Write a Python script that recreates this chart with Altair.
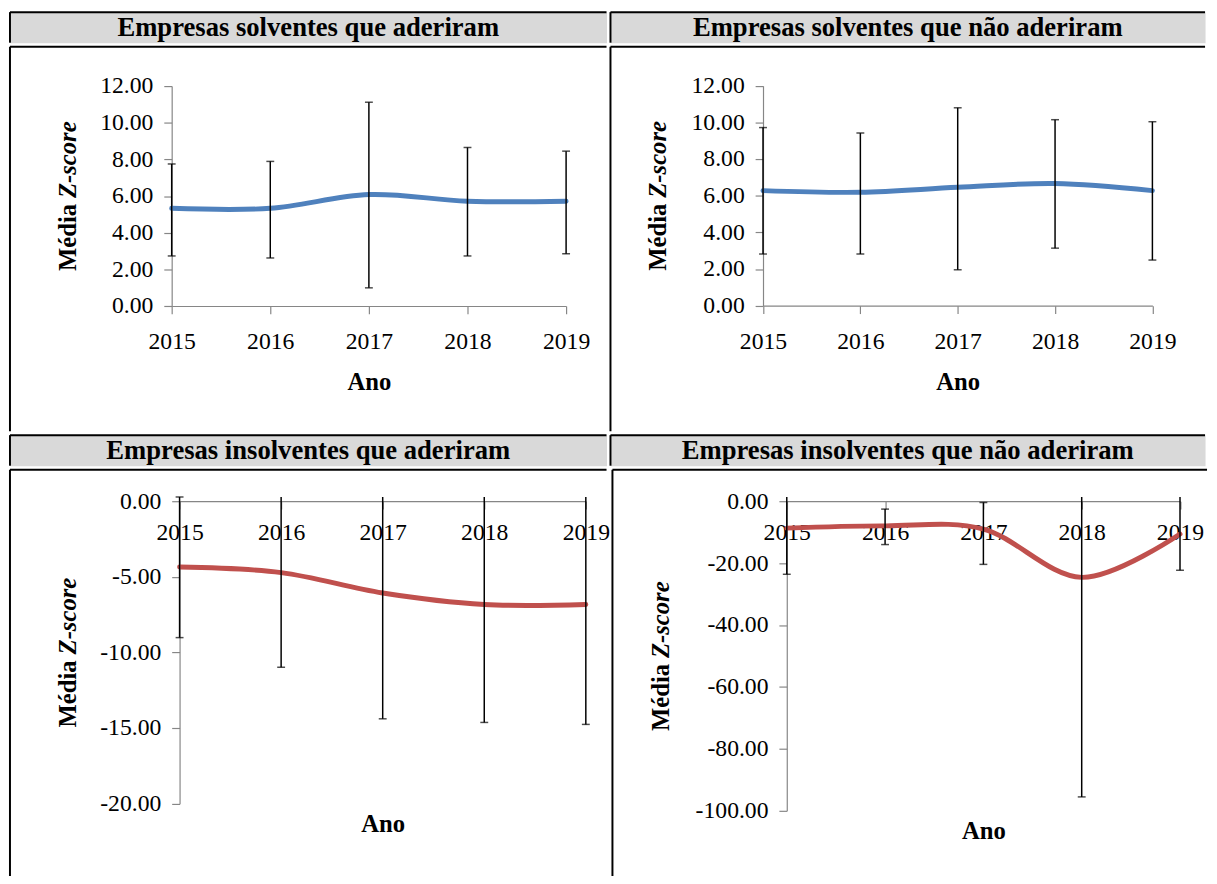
import altair as alt
import pandas as pd

FONT = "Liberation Serif"

panel_titles = [
    "Empresas solventes que aderiram",
    "Empresas solventes que não aderiram",
    "Empresas insolventes que aderiram",
    "Empresas insolventes que não aderiram",
]
y_title_parts = ["Média", "Z-score"]
x_title = "Ano"
years = [2015, 2016, 2017, 2018, 2019]

# Panel 1: solventes que aderiram
p1_mean = [5.33, 5.33, 6.08, 5.72, 5.72]
p1_lo = [2.73, 2.62, 0.99, 2.73, 2.85]
p1_hi = [7.75, 7.89, 11.12, 8.65, 8.45]
p1_cap = [True, True, True, True, True]

# Panel 2: solventes que não aderiram
p2_mean = [6.28, 6.19, 6.46, 6.67, 6.28]
p2_lo = [2.82, 2.82, 1.96, 3.14, 2.49]
p2_hi = [9.72, 9.42, 10.80, 10.15, 10.04]
p2_cap = [True, True, True, True, True]

# Panel 3: insolventes que aderiram
p3_mean = [-4.35, -4.72, -6.07, -6.83, -6.83]
p3_lo = [-9.02, -10.98, -14.39, -14.63, -14.76]
p3_hi = [0.28, 0.28, 0.28, 0.28, 0.28]
p3_cap = [True, False, False, False, False]

# Panel 4: insolventes que não aderiram
p4_mean = [-8.7, -7.96, -9.0, -24.6, -10.6]
p4_lo = [-23.6, -14.0, -20.4, -95.5, -22.3]
p4_hi = [1.4, -2.55, -0.42, 1.4, 1.4]
p4_cap = [False, True, True, False, False]

ticks_pos = [0, 2, 4, 6, 8, 10, 12]
ticks_p3 = [0, -5, -10, -15, -20]
ticks_p4 = [0, -20, -40, -60, -80, -100]

BLUE = "#4f81bd"
RED = "#c0504d"
GRAY = "#d9d9d9"
AXIS_GRAY = "#868686"

W_LEFT, W_RIGHT = 605, 603
H_HEAD, H_ROW1, H_ROW2 = 31, 390, 412

one = pd.DataFrame({"k": [0]})


def borders(w, h):
    left = alt.Chart(one).mark_rule(color="black", strokeWidth=2).encode(
        x=alt.value(0), y=alt.value(0), y2=alt.value(h))
    top = alt.Chart(one).mark_rule(color="black", strokeWidth=2).encode(
        x=alt.value(0), x2=alt.value(w), y=alt.value(0))
    return [left, top]


def header(text, w):
    t = alt.Chart(pd.DataFrame({"t": [text]})).mark_text(
        font=FONT, fontSize=27, fontWeight="bold", baseline="middle", align="center",
        color="black").encode(x=alt.value(w / 2), y=alt.value(16), text="t:N")
    return alt.layer(t, *borders(w, H_HEAD)).properties(
        width=w, height=H_HEAD, view=alt.ViewBackground(fill=GRAY, stroke="transparent"))


def y_title_marks(tx, ymid):
    a = alt.Chart(pd.DataFrame({"t": [y_title_parts[0]]})).mark_text(
        font=FONT, fontSize=25, fontWeight="bold", angle=270, align="right",
        baseline="middle", color="black").encode(
        x=alt.value(tx), y=alt.value(ymid + 8), text="t:N")
    b = alt.Chart(pd.DataFrame({"t": [y_title_parts[1]]})).mark_text(
        font=FONT, fontSize=25, fontWeight="bold", fontStyle="italic", angle=270,
        align="left", baseline="middle", color="black").encode(
        x=alt.value(tx), y=alt.value(ymid + 2), text="t:N")
    return [a, b]


def panel(mean, lo, hi, cap, color, ydom, yvals, xrange, yrange, w, h,
          xoff, ytitle_x, xtitle_y, xlabpad):
    df = pd.DataFrame({"Ano": years, "m": mean, "lo": lo, "hi": hi, "cap": cap})
    xaxis = alt.Axis(values=years, format="d", offset=xoff, tickSize=8, labelPadding=xlabpad,
                     labelBaseline="middle", labelFlush=False, titleY=xtitle_y,
                     titleBaseline="middle", grid=False)
    yaxis = alt.Axis(values=yvals, offset=-xrange[0], tickSize=8, labelPadding=11,
                     labelFlush=False,
                     labelExpr="replace(format(datum.value, '.2f'), '\u2212', '-')",
                     grid=False)
    xs = alt.Scale(domain=[2015, 2019], range=xrange, nice=False, zero=False)
    ys = alt.Scale(domain=ydom, range=yrange, nice=False, zero=False)

    def X():
        return alt.X("Ano:Q", scale=xs, axis=xaxis, title=x_title)

    def Y(f):
        return alt.Y(f + ":Q", scale=ys, axis=yaxis, title="")

    base = alt.Chart(df)
    line = base.mark_line(interpolate="cardinal", strokeWidth=5, color=color,
                          strokeCap="round").encode(x=X(), y=Y("m"))
    bars = base.mark_rule(color="black", strokeWidth=1.5).encode(
        x=X(), y=Y("lo"), y2="hi:Q")
    cap_lo = base.mark_tick(orient="horizontal", size=8, thickness=1.5, color="black").encode(
        x=X(), y=Y("lo"))
    cap_hi = base.transform_filter("datum.cap").mark_tick(
        orient="horizontal", size=8, thickness=1.5, color="black").encode(x=X(), y=Y("hi"))
    ttl = y_title_marks(xrange[0] + ytitle_x, (yrange[0] + yrange[1]) / 2)
    return alt.layer(*borders(w, h), line, bars, cap_lo, cap_hi, *ttl).properties(
        width=w, height=h, view=alt.ViewBackground(stroke="transparent"))


p1 = panel(p1_mean, p1_lo, p1_hi, p1_cap, BLUE, [0, 12], ticks_pos,
           [164, 564], [263, 40], W_LEFT, H_ROW1, 263 - H_ROW1, -105, 77, 28)
p2 = panel(p2_mean, p2_lo, p2_hi, p2_cap, BLUE, [0, 12], ticks_pos,
           [154.7, 549.6], [262.7, 39.7], W_RIGHT, H_ROW1, 262.7 - H_ROW1, -106.7, 77, 28)
p3 = panel(p3_mean, p3_lo, p3_hi, p3_cap, RED, [-20, 0], ticks_p3,
           [172, 584], [338.7, 32], W_LEFT, H_ROW2, 32 - H_ROW2, -113, 327, 24)
p4 = panel(p4_mean, p4_lo, p4_hi, p4_cap, RED, [-100, 0], ticks_p4,
           [176.8, 575.6], [346, 32], W_RIGHT, H_ROW2, 32 - H_ROW2, -127.8, 334, 24)

row_h1 = alt.hconcat(header(panel_titles[0], W_LEFT), header(panel_titles[1], W_RIGHT), spacing=0)
row_c1 = alt.hconcat(p1, p2, spacing=0)
row_h2 = alt.hconcat(header(panel_titles[2], W_LEFT), header(panel_titles[3], W_RIGHT), spacing=0)
row_c2 = alt.hconcat(p3, p4, spacing=0)

chart = alt.vconcat(row_h1, row_c1, row_h2, row_c2, spacing=0).properties(
    padding={"left": 0, "top": -4, "right": 0, "bottom": 0}, background="white"
).configure_view(stroke="transparent").configure_axis(
    labelFont=FONT, labelFontSize=24, labelColor="black",
    titleFont=FONT, titleFontSize=25, titleFontWeight="bold", titleColor="black",
    domainColor=AXIS_GRAY, tickColor=AXIS_GRAY, domainWidth=1.2, tickWidth=1.2,
).configure_concat(spacing=0)

chart.save("out.html", embed_options={"renderer": "svg", "actions": False})
